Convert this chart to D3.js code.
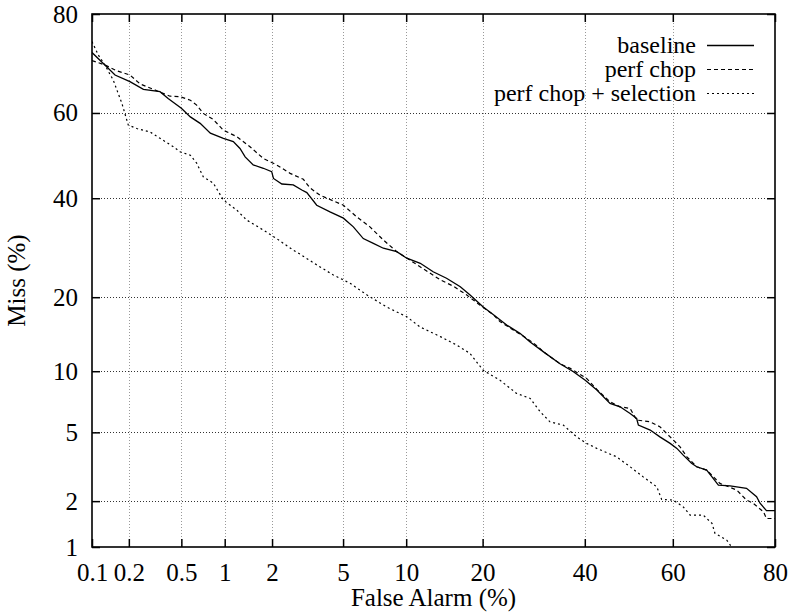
<!DOCTYPE html>
<html lang="en">
<head>
<meta charset="UTF-8">
<title>DET curve</title>
<script src="https://d3js.org/d3.v7.min.js"></script>
<style>
body { margin: 0; background: #fff; }
svg { display: block; font-family: "Liberation Serif", "Times New Roman", serif; }
</style>
</head>
<body>
<div id="content"></div>
<script>
// tick values (percent)
var xTicks = [0.1, 0.2, 0.5, 1, 2, 5, 10, 20, 40, 60, 80]
var yTicks = [1, 2, 5, 10, 20, 40, 60, 80]

var seriesNames = ["baseline", "perf chop", "perf chop + selection"]

// baseline: false alarm % / miss %
var baselineFA = [0.1, 0.128, 0.155, 0.204, 0.26, 0.348, 0.40, 0.50, 0.58, 0.68,
  0.80, 0.98, 1.14, 1.26, 1.36, 1.53, 1.77, 1.99, 2.04, 2.29,
  2.67, 2.99, 3.19, 3.62, 4.27, 5.02, 5.64, 6.32, 7.07, 7.88,
  9.08, 10.06, 11.5, 13.0, 14.7, 16.6, 18.0, 20.1, 21.8, 24.1,
  26.6, 28.5, 31.1, 34.6, 37.5, 40.1, 42.7, 45.7, 48.0, 50.3,
  51.8, 52.2, 54.9, 57.1, 59.4, 60.9, 62.3, 64.1, 65.2, 67.3,
  68.4, 69.7, 72.0, 75.1, 76.9, 77.5, 78.6, 80]
var baselineMiss = [73.0, 70.5, 68.4, 67.0, 65.3, 64.8, 63.3, 61.1, 59.1, 57.6,
  55.3, 54.1, 53.3, 51.7, 49.7, 47.8, 47.0, 46.2, 44.6, 43.3,
  43.1, 41.9, 41.3, 38.4, 36.9, 35.5, 33.6, 31.1, 30.1, 29.1,
  28.4, 27.1, 26.1, 24.5, 23.3, 21.8, 20.4, 18.4, 17.2, 15.7,
  14.5, 13.4, 12.2, 10.8, 9.94, 9.10, 8.17, 7.04, 6.77, 6.27,
  5.91, 5.46, 5.14, 4.73, 4.36, 4.09, 3.75, 3.37, 3.22, 3.08,
  2.81, 2.51, 2.48, 2.40, 2.13, 1.94, 1.74, 1.74]

// perf chop
var chopFA = [0.10, 0.128, 0.160, 0.204, 0.245, 0.329, 0.413, 0.489, 0.58, 0.643,
  0.715, 0.838, 0.98, 1.20, 1.46, 1.77, 2.13, 2.56, 3.05, 3.32,
  3.77, 5.02, 5.86, 6.81, 7.88, 9.08, 10.4, 11.8, 13.9, 15.6,
  17.5, 19.6, 21.8, 22.9, 25.3, 27.8, 30.1, 31.1, 34.6, 36.8,
  40.4, 42.7, 45.7, 48.0, 50.3, 51.8, 54.9, 57.1, 59.4, 61.6,
  63.1, 65.2, 67.3, 68.7, 70.0, 73.3, 75.1, 76.3, 78.1, 78.6, 80]
var chopMiss = [71.4, 70.5, 69.3, 68.4, 66.5, 65.0, 63.8, 63.7, 62.9, 61.8,
  59.9, 58.5, 56.0, 54.5, 52.1, 49.3, 47.8, 45.8, 44.4, 42.4,
  40.7, 38.4, 35.8, 33.6, 30.8, 28.4, 26.7, 25.1, 23.0, 21.9,
  20.4, 18.7, 17.2, 16.2, 15.0, 13.9, 12.8, 12.2, 10.8, 10.3,
  9.27, 8.23, 7.17, 6.77, 6.65, 5.80, 5.68, 5.35, 4.73, 4.17,
  3.67, 3.22, 3.08, 2.81, 2.57, 2.34, 2.03, 1.94, 1.71, 1.55, 1.55]

// perf chop + selection
var selFA = [0.10, 0.113, 0.128, 0.150, 0.176, 0.198, 0.231, 0.292, 0.348, 0.437,
  0.489, 0.58, 0.643, 0.715, 0.838, 0.98, 1.20, 1.39, 1.77, 2.13,
  2.67, 2.92, 3.62, 4.45, 5.43, 6.57, 8.17, 10.06, 11.5, 13.9,
  16.1, 18.0, 20.1, 22.9, 25.9, 28.5, 30.5, 32.5, 35.3, 38.2,
  40.4, 42.7, 47.2, 50.3, 53.3, 56.4, 57.5, 60.1, 62.3, 63.8,
  66.6, 68.4, 69.0, 71.4, 72.3]
var selMiss = [75.1, 72.5, 70.5, 67.3, 62.2, 57.2, 56.4, 55.6, 54.1, 52.1,
  50.9, 50.1, 48.2, 45.0, 43.5, 39.6, 37.3, 35.1, 32.9, 31.1,
  28.7, 27.9, 25.8, 23.9, 22.4, 20.4, 18.4, 16.9, 15.4, 14.1,
  13.0, 12.0, 10.1, 9.10, 7.88, 7.45, 6.39, 5.68, 5.46, 4.73,
  4.36, 4.09, 3.67, 3.22, 2.81, 2.45, 2.05, 2.03, 1.84, 1.63,
  1.63, 1.44, 1.24, 1.11, 1.0]

var width = 793, height = 612
var plotLeft = 92, plotRight = 775, plotTop = 14, plotBottom = 547
var fontSize = 25

// inverse normal CDF (Acklam)
function probit(p) {
  var a = [-3.969683028665376e+01, 2.209460984245205e+02, -2.759285104469687e+02, 1.383577518672690e+02, -3.066479806614716e+01, 2.506628277459239e+00]
  var b = [-5.447609879822406e+01, 1.615858368580409e+02, -1.556989798598866e+02, 6.680131188771972e+01, -1.328068155288572e+01]
  var c = [-7.784894002430293e-03, -3.223964580411365e-01, -2.400758277161838e+00, -2.549732539343734e+00, 4.374664141464968e+00, 2.938163982698783e+00]
  var d = [7.784695709041462e-03, 3.224671290700398e-01, 2.445134137142996e+00, 3.754408661907416e+00]
  var q, r
  if (p < 0.02425) {
    q = Math.sqrt(-2 * Math.log(p))
    return (((((c[0]*q+c[1])*q+c[2])*q+c[3])*q+c[4])*q+c[5]) / ((((d[0]*q+d[1])*q+d[2])*q+d[3])*q+1)
  }
  if (p <= 1 - 0.02425) {
    q = p - 0.5; r = q * q
    return (((((a[0]*r+a[1])*r+a[2])*r+a[3])*r+a[4])*r+a[5])*q / (((((b[0]*r+b[1])*r+b[2])*r+b[3])*r+b[4])*r+1)
  }
  q = Math.sqrt(-2 * Math.log(1 - p))
  return -(((((c[0]*q+c[1])*q+c[2])*q+c[3])*q+c[4])*q+c[5]) / ((((d[0]*q+d[1])*q+d[2])*q+d[3])*q+1)
}

// percent -> pixel through a linear scale on normal deviates, usable by d3.axis
function probitScale(lin) {
  var s = function(v) { return lin(probit(v / 100)) }
  s.copy = function() { return probitScale(lin.copy()) }
  s.range = function() { return lin.range() }
  s.domain = function() { return lin.domain() }
  return s
}

var x = probitScale(d3.scaleLinear().domain([probit(0.001), probit(0.8)]).range([plotLeft, plotRight]))
var y = probitScale(d3.scaleLinear().domain([probit(0.01), probit(0.8)]).range([plotBottom, plotTop]))

var svg = d3.select('#content').append('svg')
  .attr('width', width).attr('height', height)

svg.append('rect').attr('width', width).attr('height', height).attr('fill', '#fff')

// grid
svg.append('g').selectAll('line')
  .data(xTicks.slice(1, -1))
  .enter().append('line')
  .attr('x1', function(d) { return Math.round(x(d)) + 0.5 })
  .attr('x2', function(d) { return Math.round(x(d)) + 0.5 })
  .attr('y1', plotTop).attr('y2', plotBottom)
  .attr('stroke', '#999').attr('stroke-dasharray', '1,2')

svg.append('g').selectAll('line')
  .data(yTicks.slice(1, -1))
  .enter().append('line')
  .attr('y1', function(d) { return Math.round(y(d)) + 0.5 })
  .attr('y2', function(d) { return Math.round(y(d)) + 0.5 })
  .attr('x1', plotLeft).attr('x2', plotRight)
  .attr('stroke', '#333').attr('stroke-dasharray', '1,2')

// axes (ticks point inward, mirrored on top/right)
function styleAxis(g) {
  g.select('.domain').remove()
  g.attr('font-family', null).attr('font-size', fontSize)
  g.selectAll('.tick line').attr('stroke', '#000').attr('stroke-width', 1.5)
  g.selectAll('.tick text').attr('fill', '#000')
}

svg.append('g').attr('transform', 'translate(0,' + plotBottom + ')')
  .call(d3.axisBottom(x).tickValues(xTicks).tickSize(-8).tickPadding(16))
  .call(styleAxis)
svg.append('g').attr('transform', 'translate(0,' + plotTop + ')')
  .call(d3.axisTop(x).tickValues(xTicks).tickSize(-8).tickFormat(''))
  .call(styleAxis)
svg.append('g').attr('transform', 'translate(' + plotLeft + ',0)')
  .call(d3.axisLeft(y).tickValues(yTicks).tickSize(-8).tickPadding(14))
  .call(styleAxis)
svg.append('g').attr('transform', 'translate(' + plotRight + ',0)')
  .call(d3.axisRight(y).tickValues(yTicks).tickSize(-8).tickFormat(''))
  .call(styleAxis)

// frame
svg.append('rect')
  .attr('x', plotLeft).attr('y', plotTop)
  .attr('width', plotRight - plotLeft).attr('height', plotBottom - plotTop)
  .attr('fill', 'none').attr('stroke', '#000').attr('stroke-width', 1.6)

// axis titles
svg.append('text')
  .attr('x', (plotLeft + plotRight) / 2).attr('y', 606)
  .attr('text-anchor', 'middle').attr('font-size', fontSize)
  .text('False Alarm (%)')
svg.append('text')
  .attr('transform', 'translate(25,' + ((plotTop + plotBottom) / 2) + ') rotate(-90)')
  .attr('text-anchor', 'middle').attr('font-size', fontSize)
  .text('Miss (%)')

// curves
svg.append('clipPath').attr('id', 'plot')
  .append('rect').attr('x', plotLeft).attr('y', plotTop)
  .attr('width', plotRight - plotLeft).attr('height', plotBottom - plotTop)

var series = [
  { name: seriesNames[0], fa: baselineFA, miss: baselineMiss, dash: null, w: 1.3 },
  { name: seriesNames[1], fa: chopFA, miss: chopMiss, dash: '4,3', w: 1.2 },
  { name: seriesNames[2], fa: selFA, miss: selMiss, dash: '2,3', w: 1.2 }
]

var line = d3.line()
  .x(function(d) { return x(d[0]) })
  .y(function(d) { return y(d[1]) })

series.forEach(function(s) {
  var pts = s.fa.map(function(v, i) { return [v, s.miss[i]] })
  svg.append('path')
    .datum(pts)
    .attr('clip-path', 'url(#plot)')
    .attr('d', line)
    .attr('fill', 'none')
    .attr('stroke', '#000')
    .attr('stroke-width', s.w)
    .attr('stroke-dasharray', s.dash)
})

// legend
var legend = svg.append('g').selectAll('g')
  .data(series)
  .enter().append('g')
  .attr('transform', function(d, i) { return 'translate(0,' + (46 + i * 24) + ')' })

legend.append('text')
  .attr('x', 696).attr('y', 7)
  .attr('text-anchor', 'end').attr('font-size', 24)
  .text(function(d) { return d.name })

legend.append('line')
  .attr('x1', 707).attr('x2', 754)
  .attr('y1', -0.5).attr('y2', -0.5)
  .attr('stroke', '#000')
  .attr('stroke-width', function(d) { return d.w })
  .attr('stroke-dasharray', function(d) { return d.dash })
</script>
</body>
</html>
